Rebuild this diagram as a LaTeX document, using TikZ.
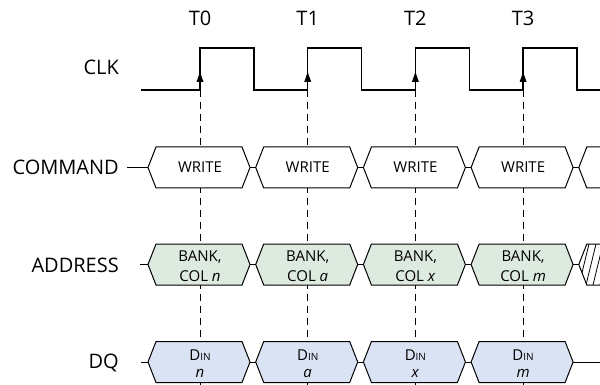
\documentclass[tikz,border=0pt]{standalone}
\usepackage{fontspec}
\setmainfont{Open Sans}
\definecolor{addrfill}{RGB}{221,234,224}
\definecolor{dqfill}{RGB}{218,227,244}
\begin{document}
\begin{tikzpicture}[x=1pt,y=-1pt,line join=miter]
\useasboundingbox (0,0) rectangle (600,385);
\tikzset{
 lbl/.style={font=\fontsize{20}{24}\selectfont, anchor=east, inner sep=0pt},
 tlbl/.style={font=\fontsize{20}{24}\selectfont, inner sep=0pt},
 btxt/.style={font=\fontsize{15}{20}\selectfont, align=center, inner sep=0pt},
 sig/.style={line width=1pt},
 clk/.style={line width=1.3pt},
 guide/.style={line width=0.9pt, dash pattern=on 7pt off 5pt},
 cmdbox/.style={sig, fill=white},
 addrbox/.style={sig, fill=addrfill},
 dqbox/.style={sig, fill=dqfill},
 hatch/.style={line width=0.8pt}
}
% guides
\foreach \i in {0,...,3}{
  \coordinate (g\i) at ({200+107.7*\i},90);
  \coordinate (gb\i) at ({200+107.7*\i},385);
  \draw[guide] (g\i) -- (gb\i);
}
% clock
\draw[clk] (141,90) -- (200,90) -- (200,48) -- (254,48) -- (254,90)
  -- (307.7,90) -- (307.7,48) -- (361.7,48) -- (361.7,90)
  -- (415.4,90) -- (415.4,48) -- (469.4,48) -- (469.4,90)
  -- (523.1,90) -- (523.1,48) -- (577.1,48) -- (577.1,90) -- (600,90);
\foreach \i in {0,...,3}{
  \fill ({200+107.7*\i},72) -- ({200+107.7*\i-3.5},82) -- ({200+107.7*\i+3.5},82) -- cycle;
  \node[tlbl] (t\i) at ({200+107.7*\i},18) {T\i};
}
% row labels
\node[lbl] (lclk) at (119,67) {CLK};
\node[lbl] (lcmd) at (119,167.5) {COMMAND};
\node[lbl] (laddr) at (119,265) {ADDRESS};
\node[lbl] (ldq) at (119,363) {DQ};
% leader lines
\coordinate (c0) at (148,167.5);
\coordinate (a0) at (148,264.5);
\coordinate (d0) at (148,362);
\draw[sig] (127,167.5) -- (c0);
\draw[sig] (140,264.5) -- (a0);
\draw[sig] (141,362) -- (d0);
% boxes
\foreach \i/\v in {0/n,1/a,2/x,3/m}{
  \pgfmathsetmacro{\e}{200+107.7*\i}
  % command
  \draw[cmdbox] (\e-52,167.5) -- (\e-44,147) -- (\e+42,147) -- (\e+50,167.5) -- (\e+42,188) -- (\e-44,188) -- cycle;
  \node[btxt] (cmd\i) at (\e,167.5) {WRITE};
  % address
  \draw[addrbox] (\e-52,264.5) -- (\e-44,244) -- (\e+42,244) -- (\e+50,264.5) -- (\e+42,285) -- (\e-44,285) -- cycle;
  \node[btxt] (addr\i) at (\e,266.5) {BANK,\\COL \textit{\v}};
  % dq
  \draw[dqbox] (\e-52,362) -- (\e-44,341.5) -- (\e+42,341.5) -- (\e+50,362) -- (\e+42,382.5) -- (\e-44,382.5) -- cycle;
  \node[btxt] (dq\i) at (\e,364) {D{\fontsize{10}{12}\selectfont IN}\\[-3pt]\textit{\v}};
}
% joins between boxes
\foreach \i in {0,...,2}{
  \pgfmathsetmacro{\e}{200+107.7*\i}
  \draw[sig] (\e+50,167.5) -- (\e+55.7,167.5);
  \draw[sig] (\e+50,264.5) -- (\e+55.7,264.5);
  \draw[sig] (\e+50,362) -- (\e+55.7,362);
}
% trailing parts
\draw[sig] (573.1,167.5) -- (578.8,167.5);
\draw[sig] (602,147) -- (586.8,147) -- (578.8,167.5) -- (586.8,188) -- (602,188);
\draw[sig] (573.1,264.5) -- (578.8,264.5);
\begin{scope}
  \clip (578.8,264.5) -- (586.8,244) -- (602,244) -- (602,285) -- (586.8,285) -- cycle;
  \foreach \k in {572,579,...,607}{
    \draw[hatch] (\k,285) -- (\k+10,244);
  }
\end{scope}
\draw[sig] (602,244) -- (586.8,244) -- (578.8,264.5) -- (586.8,285) -- (602,285);
\draw[sig] (573.1,362) -- (600,362);
\end{tikzpicture}
\end{document}
